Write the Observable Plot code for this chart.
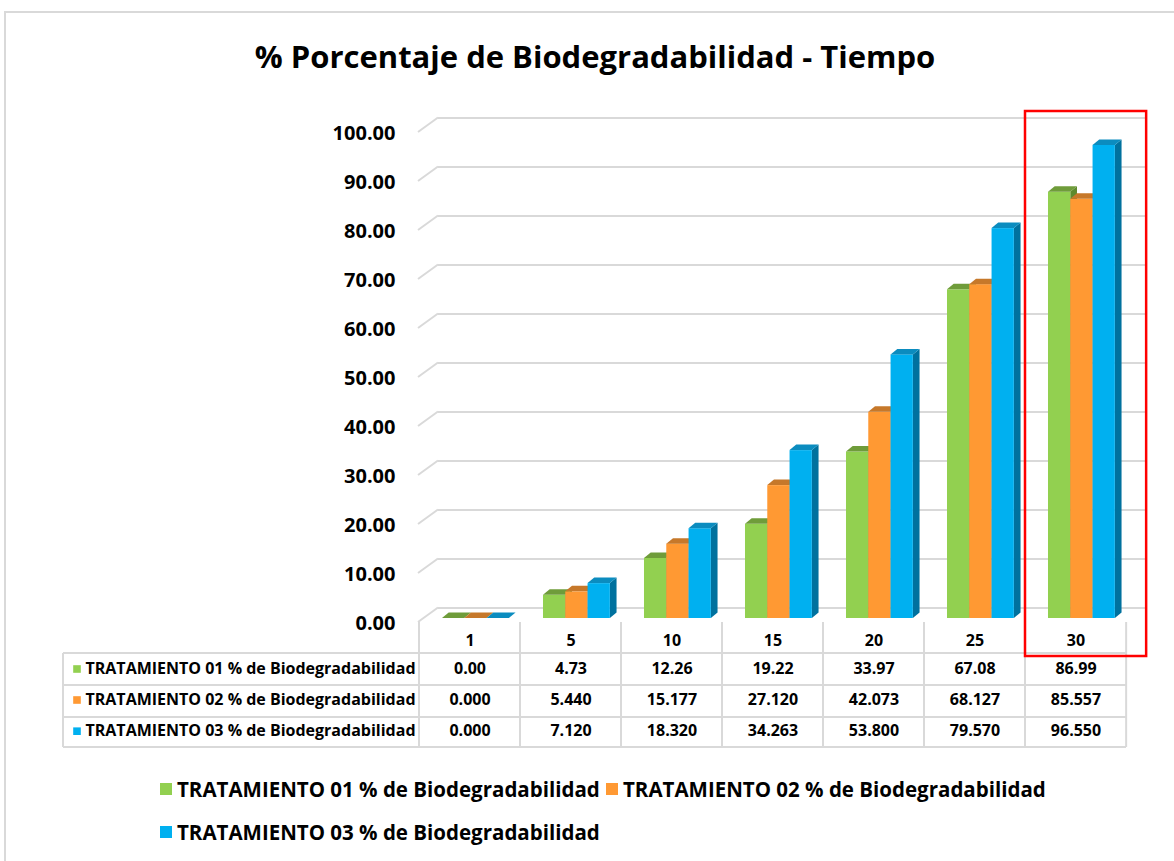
<!DOCTYPE html>
<html>
<head>
<meta charset="utf-8">
<script src="https://cdn.jsdelivr.net/npm/d3@7"></script>
<script src="https://cdn.jsdelivr.net/npm/@observablehq/plot@0.6"></script>
<style>
  body { margin: 0; background: #fff; font-family: "Open Sans", "DejaVu Sans", sans-serif; }
  #page { position: relative; width: 1174px; height: 861px; overflow: hidden; background: #fff; }
  #frame { position: absolute; left: 4px; top: 11px; width: 1200px; height: 900px; border: 2px solid #d9d9d9; box-sizing: border-box; }
  #title { position: absolute; left: 0; width: 1190px; top: 35px; line-height: 42px; text-align: center; font-weight: 700; font-size: 31px; color: #000; }
  #chart { position: absolute; left: 0; top: 100px; }
  .leg { position: absolute; display: flex; align-items: center; font-weight: 700; font-size: 20.5px; color: #000; white-space: nowrap; }
  .leg i { display: inline-block; width: 12px; height: 12px; margin-right: 5px; }
</style>
</head>
<body>
<div id="page">
  <div id="frame"></div>
  <div id="title">% Porcentaje de Biodegradabilidad - Tiempo</div>
  <div id="chart"></div>
  <div id="legend"></div>
</div>
<script>
// ---- data ----
const tiempos = ["1", "5", "10", "15", "20", "25", "30"];
const series = [
  "TRATAMIENTO 01 % de Biodegradabilidad",
  "TRATAMIENTO 02 % de Biodegradabilidad",
  "TRATAMIENTO 03 % de Biodegradabilidad"
];
const trat01 = [0.00, 4.73, 12.26, 19.22, 33.97, 67.08, 86.99];
const trat02 = [0.000, 5.440, 15.177, 27.120, 42.073, 68.127, 85.557];
const trat03 = [0.000, 7.120, 18.320, 34.263, 53.800, 79.570, 96.550];
const decimales = [2, 3, 3];
const yTicks = [0, 10, 20, 30, 40, 50, 60, 70, 80, 90, 100];
const destacado = "30";

// ---- styles ----
const valores = [trat01, trat02, trat03];
const front = ["#92D050", "#FF9933", "#00B0F0"];
const topC = ["#6F9C3A", "#C6782A", "#0B8CBF"];
const sideC = ["#5E8A2E", "#B0651F", "#00719E"];
const gridC = "#d9d9d9";
const depthX = 6.7, depthY = 5.5;

const W = 1174, H = 660;
const mL = 418, mR = 48, mT = 28, mB = 142;

function bw(dims) { return (dims.width - dims.marginLeft - dims.marginRight) / tiempos.length; }

// left wall diagonals
function wall(index, scales, values, dims) {
  const g = d3.create("svg:g").attr("stroke", gridC).attr("stroke-width", 2).attr("fill", "none");
  const x0 = dims.marginLeft;
  for (const t of yTicks) {
    const yy = scales.y(t);
    g.append("line").attr("x1", x0).attr("y1", yy + 4).attr("x2", x0 + 20).attr("y2", yy - 10.5);
  }
  return g.node();
}

// 3D bars
function bars3d(index, scales, values, dims) {
  const g = d3.create("svg:g");
  const b = bw(dims);
  const w = b * 22.3 / 101.2;
  const off = b * 23 / 101.2;
  const y0 = scales.y(0);
  tiempos.forEach((t, ti) => {
    series.forEach((s, si) => {
      const v = valores[si][ti];
      const bx = scales.x(t) + off + si * w;
      const yv = scales.y(v);
      g.append("path").attr("fill", sideC[si])
        .attr("d", `M${bx + w},${yv}L${bx + w + depthX},${yv - depthY}L${bx + w + depthX},${y0 - depthY}L${bx + w},${y0}Z`);
      g.append("rect").attr("fill", front[si]).attr("x", bx).attr("y", yv).attr("width", w).attr("height", Math.max(0, y0 - yv));
      g.append("path").attr("fill", topC[si])
        .attr("d", `M${bx},${yv}L${bx + depthX},${yv - depthY}L${bx + w + depthX},${yv - depthY}L${bx + w},${yv}Z`);
    });
  });
  return g.node();
}

// data table grid
function tableGrid(index, scales, values, dims) {
  const g = d3.create("svg:g").attr("stroke", gridC).attr("stroke-width", 2).attr("fill", "none");
  const y0 = scales.y(0);
  const b = bw(dims);
  const left = 63;
  const right = dims.width - dims.marginRight;
  const rows = [35, 67, 99, 129];
  for (const r of rows) g.append("line").attr("x1", left).attr("x2", right).attr("y1", y0 + r).attr("y2", y0 + r);
  g.append("line").attr("x1", left).attr("x2", left).attr("y1", y0 + 35).attr("y2", y0 + 129);
  const xs = tiempos.map(t => scales.x(t)).concat([scales.x(tiempos[tiempos.length - 1]) + b]);
  for (const x of xs) g.append("line").attr("x1", x).attr("x2", x).attr("y1", y0 + 4).attr("y2", y0 + 129);
  return g.node();
}

// highlight box
function highlight(index, scales, values, dims) {
  const b = bw(dims);
  const x1 = scales.x(destacado), x2 = x1 + b + 20;
  const y1 = scales.y(100) - 17, y2 = scales.y(0) + 38;
  return d3.create("svg:rect").attr("x", x1).attr("y", y1).attr("width", x2 - x1).attr("height", y2 - y1)
    .attr("fill", "none").attr("stroke", "#FF0000").attr("stroke-width", 2.5).node();
}

const rowDy = [50.5, 81.5, 112.7];
const textShift = 5;
const textMarks = [];
series.forEach((s, si) => {
  textMarks.push(Plot.text(tiempos, {
    x: d => d, text: (d, i) => valores[si][i].toFixed(decimales[si]),
    frameAnchor: "bottom", dy: rowDy[si] + textShift, fontSize: 16, fontWeight: 700, fill: "#000"
  }));
  textMarks.push(Plot.text([s], {
    text: d => d, frameAnchor: "bottom-left", textAnchor: "start", dx: 85 - mL, dy: rowDy[si] + textShift,
    fontSize: 16, fontWeight: 700, fill: "#000"
  }));
  textMarks.push(Plot.dot([s], {
    frameAnchor: "bottom-left", dx: 76.5 - mL, dy: rowDy[si], symbol: "square", r: 4.3, fill: front[si], stroke: null
  }));
});

const chart = Plot.plot({
  width: W, height: H,
  marginLeft: mL, marginRight: mR, marginTop: mT, marginBottom: mB,
  style: { fontFamily: "'Open Sans', 'DejaVu Sans', sans-serif", background: "transparent", overflow: "visible" },
  x: { type: "band", domain: tiempos, paddingInner: 0, paddingOuter: 0, axis: null },
  y: { domain: [0, 100], axis: null },
  marks: [
    Plot.ruleY(yTicks, { y: d => d, dy: -10.5, insetLeft: 20, insetRight: -20, stroke: gridC, strokeWidth: 2 }),
    wall,
    tableGrid,
    bars3d,
    Plot.text(yTicks, { y: d => d, text: d => d.toFixed(2), frameAnchor: "left", textAnchor: "end", dx: -23, dy: 5.5, fontSize: 20, fontWeight: 700, fill: "#000" }),
    Plot.text(tiempos, { x: d => d, text: d => d, frameAnchor: "bottom", dy: 22 + textShift, fontSize: 16, fontWeight: 700, fill: "#000" }),
    ...textMarks,
    highlight
  ]
});
document.getElementById("chart").appendChild(chart);

// legend
const legend = document.getElementById("legend");
const legPos = [[160, 789], [606, 789], [160, 832]];
series.forEach((s, si) => {
  const d = document.createElement("div");
  d.className = "leg";
  d.style.left = legPos[si][0] + "px";
  d.style.top = (legPos[si][1] - 14) + "px";
  d.style.height = "28px";
  d.innerHTML = `<i style="background:${front[si]}"></i><span>${s}</span>`;
  legend.appendChild(d);
});
</script>
</body>
</html>
